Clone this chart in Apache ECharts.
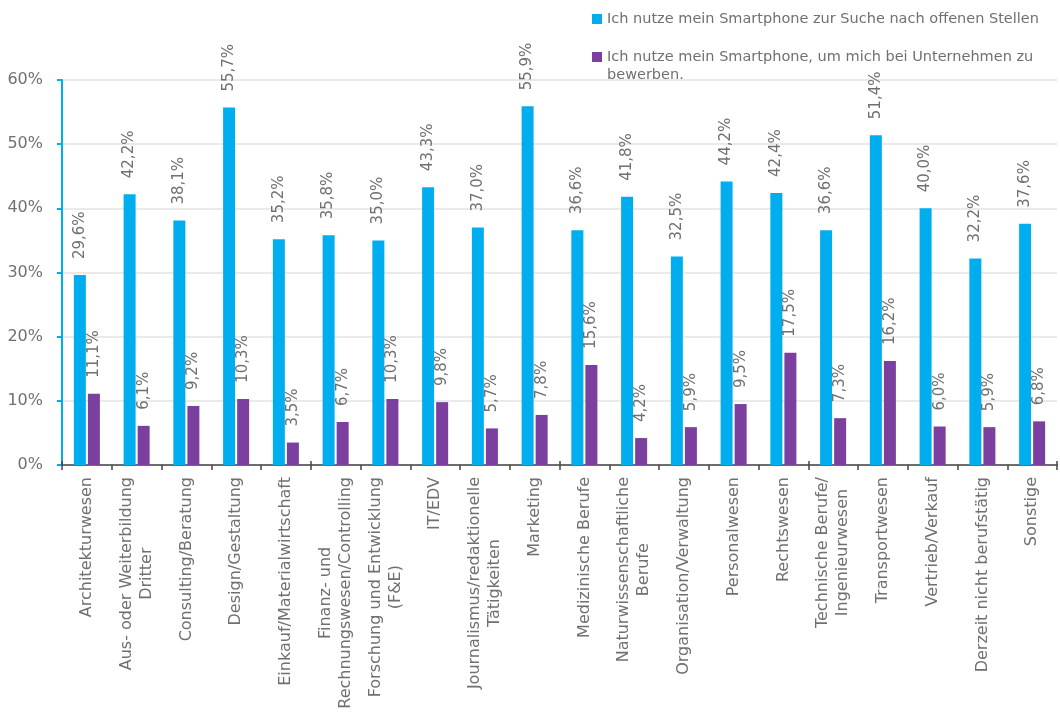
<!DOCTYPE html>
<html>
<head>
<meta charset="utf-8">
<script src="https://cdn.jsdelivr.net/npm/echarts@6/dist/echarts.min.js"></script>
<style>
  html, body { margin: 0; padding: 0; background: #fff; }
  #chart { width: 1060px; height: 720px; }
</style>
</head>
<body>
<div id="chart"></div>
<script>
// Berufsfelder (x-Achse)
var categories = [
  'Architekturwesen', 'Aus- oder Weiterbildung\nDritter', 'Consulting/Beratung', 'Design/Gestaltung',
  'Einkauf/Materialwirtschaft', 'Finanz- und\nRechnungswesen/Controlling', 'Forschung und Entwicklung\n(F&E)',
  'IT/EDV', 'Journalismus/redaktionelle\nTätigkeiten', 'Marketing', 'Medizinische Berufe',
  'Naturwissenschaftliche\nBerufe', 'Organisation/Verwaltung', 'Personalwesen', 'Rechtswesen',
  'Technische Berufe/\nIngenieurwesen', 'Transportwesen', 'Vertrieb/Verkauf', 'Derzeit nicht berufstätig', 'Sonstige'
];
var seriesNames = [
  'Ich nutze mein Smartphone zur Suche nach offenen Stellen',
  'Ich nutze mein Smartphone, um mich bei Unternehmen zu\nbewerben.'
];
// Werte in Prozent
var sucheWerte = [29.6, 42.2, 38.1, 55.7, 35.2, 35.8, 35.0, 43.3, 37.0, 55.9, 36.6, 41.8, 32.5, 44.2, 42.4, 36.6, 51.4, 40.0, 32.2, 37.6];
var bewerbenWerte = [11.1, 6.1, 9.2, 10.3, 3.5, 6.7, 10.3, 9.8, 5.7, 7.8, 15.6, 4.2, 5.9, 9.5, 17.5, 7.3, 16.2, 6.0, 5.9, 6.8];
var yMax = 60, yStep = 10;

var FONT = '"DejaVu Sans", sans-serif';
var grau = '#707070';

var myChart = echarts.init(document.getElementById('chart'));

// Zahl mit Komma als Dezimaltrenner
function pct(v) {
  return v.toFixed(1).replace('.', ',') + '%';
}

var valueLabel = {
  show: true,
  position: 'top',
  distance: 16,
  rotate: 90,
  align: 'left',
  verticalAlign: 'middle',
  color: grau,
  fontFamily: FONT,
  fontSize: 15,
  formatter: function (p) { return pct(p.value); }
};

var option = {
  animation: false,
  color: ['#00AEEF', '#7B3FA0'],
  legend: {
    orient: 'vertical',
    left: 592,
    top: 10,
    padding: 0,
    itemWidth: 10,
    itemHeight: 10,
    itemGap: 2,
    icon: 'rect',
    textStyle: { color: grau, fontFamily: FONT, fontSize: 14.5, lineHeight: 18 },
    // Leerzeile davor, damit das Symbol auf Höhe der ersten Zeile steht
    formatter: function (name) {
      return name.indexOf('\n') >= 0 ? ' \n' + name : name;
    },
    data: seriesNames
  },
  grid: { left: 62, right: 3, top: 80, bottom: 255 },
  xAxis: [{
    type: 'category',
    data: categories,
    axisLine: { lineStyle: { color: '#444', width: 1.5 } },
    axisTick: { show: true, length: 5, lineStyle: { color: '#444', width: 1.5 } },
    axisLabel: {
      interval: 0,
      rotate: 90,
      margin: 12,
      color: grau,
      fontFamily: FONT,
      fontSize: 16,
      lineHeight: 20,
      formatter: function (v) {
        return v.split('\n').map(function (s) { return '{c|' + s + '}'; }).join('\n');
      },
      rich: {
        c: { align: 'center', color: grau, fontFamily: FONT, fontSize: 16, lineHeight: 20 }
      }
    }
  }, {
    // nur für die nach innen zeigenden Tick-Hälften
    type: 'category',
    data: categories,
    position: 'bottom',
    axisLine: { show: false },
    axisTick: { show: true, inside: true, length: 4, lineStyle: { color: '#444', width: 1.5 } },
    axisLabel: { show: false },
    splitLine: { show: false }
  }],
  yAxis: {
    type: 'value',
    min: 0,
    max: yMax,
    interval: yStep,
    axisLine: { show: true, lineStyle: { color: '#00AEEF', width: 2 } },
    axisTick: { show: true, length: 5, lineStyle: { color: '#00AEEF', width: 2 } },
    axisLabel: { color: grau, fontFamily: FONT, fontSize: 16, margin: 19, formatter: '{value}%' },
    splitLine: { lineStyle: { color: '#e3e3e3', width: 1.5 } }
  },
  series: [
    {
      name: seriesNames[0],
      type: 'bar',
      data: sucheWerte,
      barWidth: 12,
      barGap: '17%',
      label: valueLabel
    },
    {
      name: seriesNames[1],
      type: 'bar',
      data: bewerbenWerte,
      barWidth: 12,
      label: valueLabel
    }
  ]
};
myChart.setOption(option);
</script>
</body>
</html>
